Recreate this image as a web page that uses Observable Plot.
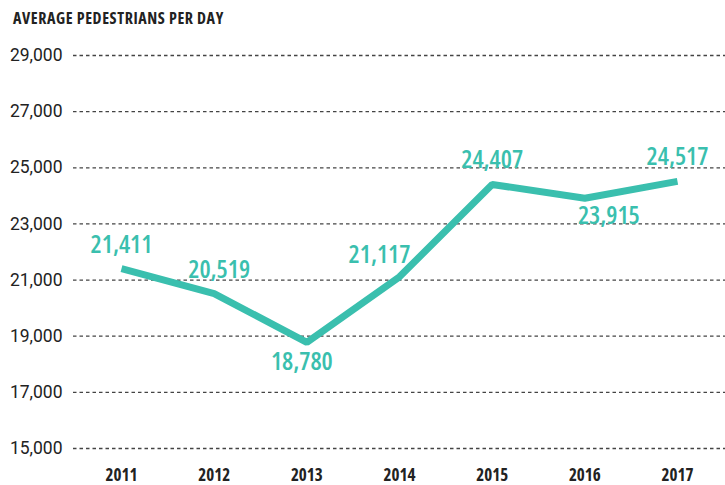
<!DOCTYPE html>
<html>
<head>
<meta charset="utf-8">
<script src="https://cdn.jsdelivr.net/npm/d3@7"></script>
<script src="https://cdn.jsdelivr.net/npm/@observablehq/plot@0.6"></script>
<style>
  html, body { margin: 0; padding: 0; background: #fff; }
  #title { height: 32px; box-sizing: border-box; padding: 10px 0 0 13px; font-family: "Open Sans", sans-serif; font-stretch: condensed; font-weight: bold; font-size: 16px; letter-spacing: 0.6px; line-height: 16px; color: #222; }
  svg { display: block; }
  #chart svg text { font-stretch: condensed; }
  #chart svg text.ytick { font-stretch: normal !important; font-family: Roboto, sans-serif !important; }
</style>
</head>
<body>
<div id="title">AVERAGE PEDESTRIANS PER DAY</div>
<div id="chart"></div>
<script>
const years = [2011, 2012, 2013, 2014, 2015, 2016, 2017];
const pedestrians = [21411, 20519, 18780, 21117, 24407, 23915, 24517];
const labelSide = ["above", "above", "below", "above", "above", "below", "above"];
const yTicks = [15000, 17000, 19000, 21000, 23000, 25000, 27000, 29000];

const data = years.map((year, i) => ({year, value: pedestrians[i], side: labelSide[i]}));
const fmt = d3.format(",");
const teal = "#3abfae";
const lbl = {x: "year", y: "value", text: d => fmt(d.value), fontSize: 25, fill: teal, fontWeight: 600};

const chart = Plot.plot({
  width: 725,
  height: 453,
  marginTop: 23,
  marginBottom: 37,
  marginLeft: 121,
  marginRight: 48,
  x: {domain: [2011, 2017], axis: null},
  y: {domain: [15000, 29000], axis: null},
  style: {fontFamily: "'Open Sans', sans-serif", background: "#fff", overflow: "visible"},
  marks: [
    Plot.ruleY(yTicks, {stroke: "#444", strokeWidth: 1.3, strokeDasharray: "3.5,3", insetLeft: -48, insetRight: -48}),
    Plot.text(yTicks, {y: d => d, text: d => fmt(d), frameAnchor: "left", textAnchor: "end", dx: -59, fontSize: 17.5, fill: "#222", fontFamily: "Roboto, sans-serif", fontWeight: 400}),
    Plot.text(years, {x: d => d, text: d => String(d), frameAnchor: "bottom", dy: 32, fontSize: 17, fontWeight: "bold", fill: "#222"}),
    Plot.line(data, {x: "year", y: "value", stroke: teal, strokeWidth: 7, strokeLinejoin: "miter", strokeLinecap: "butt"}),
    Plot.text(data.filter(d => d.side === "above" && d.year !== 2014 && d.year !== 2012), {...lbl, dy: -24}),
    Plot.text(data.filter(d => d.year === 2012), {...lbl, dy: -24, dx: 5}),
    Plot.text(data.filter(d => d.year === 2014), {...lbl, dy: -22, dx: -20}),
    Plot.text(data.filter(d => d.year === 2013), {...lbl, dy: 20, dx: -5}),
    Plot.text(data.filter(d => d.year === 2016), {...lbl, dy: 18, dx: 24})
  ]
});
const tickTexts = new Set(yTicks.map(fmt));
d3.select(chart).selectAll("text").filter(function() { return tickTexts.has(this.textContent); }).classed("ytick", true);
document.getElementById("chart").appendChild(chart);
</script>
</body>
</html>
